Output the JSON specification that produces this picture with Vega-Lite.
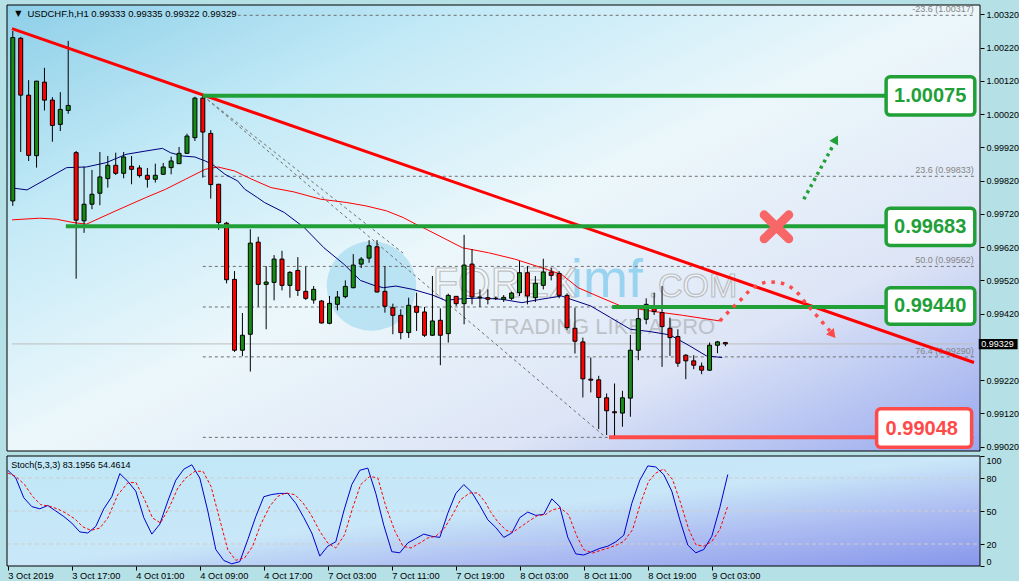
{
"$schema":"https://vega.github.io/schema/vega-lite/v6.json",
"background":"#b4e0e6",
"padding":{"left":5,"top":4,"right":0,"bottom":0},
"config":{"font":"Liberation Sans","view":{"stroke":null}},
"datasets":{
"candles":[
{"x":0,"o":0.99759,"h":1.00270,"l":0.99744,"c":1.00250},
{"x":1,"o":1.00248,"h":1.00252,"l":0.99906,"c":1.00077},
{"x":2,"o":1.00077,"h":1.00122,"l":0.99879,"c":0.99896},
{"x":3,"o":0.99895,"h":1.00120,"l":0.99859,"c":1.00119},
{"x":4,"o":1.00116,"h":1.00159,"l":1.00031,"c":1.00062},
{"x":5,"o":1.00062,"h":1.00071,"l":0.99937,"c":0.99986},
{"x":6,"o":0.99989,"h":1.00086,"l":0.99969,"c":1.00034},
{"x":7,"o":1.00031,"h":1.00240,"l":1.00021,"c":1.00046},
{"x":8,"o":0.99904,"h":0.99909,"l":0.99525,"c":0.99701},
{"x":9,"o":0.99699,"h":0.99862,"l":0.99663,"c":0.99749},
{"x":10,"o":0.99749,"h":0.99852,"l":0.99734,"c":0.99779},
{"x":11,"o":0.99782,"h":0.99906,"l":0.99746,"c":0.99831},
{"x":12,"o":0.99826,"h":0.99894,"l":0.99799,"c":0.99866},
{"x":13,"o":0.99866,"h":0.99904,"l":0.99837,"c":0.99842},
{"x":14,"o":0.99842,"h":0.99906,"l":0.99827,"c":0.99891},
{"x":15,"o":0.99863,"h":0.99894,"l":0.99809,"c":0.99854},
{"x":16,"o":0.99858,"h":0.99866,"l":0.99829,"c":0.99835},
{"x":17,"o":0.99836,"h":0.99858,"l":0.99799,"c":0.99824},
{"x":18,"o":0.99824,"h":0.99871,"l":0.99814,"c":0.99836},
{"x":19,"o":0.99839,"h":0.99873,"l":0.99837,"c":0.99861},
{"x":20,"o":0.99859,"h":0.99892,"l":0.99839,"c":0.99879},
{"x":21,"o":0.99871,"h":0.99921,"l":0.99870,"c":0.99902},
{"x":22,"o":0.99902,"h":0.99961,"l":0.99900,"c":0.99954},
{"x":23,"o":0.99949,"h":1.00072,"l":0.99939,"c":1.00068},
{"x":24,"o":1.00068,"h":1.00075,"l":0.99829,"c":0.99966},
{"x":25,"o":0.99962,"h":0.99972,"l":0.99766,"c":0.99808},
{"x":26,"o":0.99809,"h":0.99810,"l":0.99672,"c":0.99694},
{"x":27,"o":0.99692,"h":0.99696,"l":0.99511,"c":0.99522},
{"x":28,"o":0.99523,"h":0.99548,"l":0.99305,"c":0.99310},
{"x":29,"o":0.99310,"h":0.99422,"l":0.99292,"c":0.99355},
{"x":30,"o":0.99358,"h":0.99674,"l":0.99246,"c":0.99632},
{"x":31,"o":0.99635,"h":0.99651,"l":0.99441,"c":0.99508},
{"x":32,"o":0.99508,"h":0.99563,"l":0.99373,"c":0.99515},
{"x":33,"o":0.99514,"h":0.99596,"l":0.99460,"c":0.99584},
{"x":34,"o":0.99584,"h":0.99609,"l":0.99490,"c":0.99505},
{"x":35,"o":0.99505,"h":0.99548,"l":0.99468,"c":0.99544},
{"x":36,"o":0.99550,"h":0.99590,"l":0.99473,"c":0.99490},
{"x":37,"o":0.99487,"h":0.99561,"l":0.99461,"c":0.99466},
{"x":38,"o":0.99461,"h":0.99503,"l":0.99450,"c":0.99493},
{"x":39,"o":0.99458,"h":0.99461,"l":0.99390,"c":0.99392},
{"x":40,"o":0.99391,"h":0.99473,"l":0.99388,"c":0.99451},
{"x":41,"o":0.99448,"h":0.99488,"l":0.99430,"c":0.99470},
{"x":42,"o":0.99471,"h":0.99520,"l":0.99466,"c":0.99502},
{"x":43,"o":0.99498,"h":0.99599,"l":0.99496,"c":0.99566},
{"x":44,"o":0.99569,"h":0.99590,"l":0.99557,"c":0.99584},
{"x":45,"o":0.99587,"h":0.99641,"l":0.99573,"c":0.99624},
{"x":46,"o":0.99621,"h":0.99641,"l":0.99484,"c":0.99485},
{"x":47,"o":0.99487,"h":0.99563,"l":0.99423,"c":0.99442},
{"x":48,"o":0.99438,"h":0.99450,"l":0.99358,"c":0.99415},
{"x":49,"o":0.99415,"h":0.99433,"l":0.99343,"c":0.99363},
{"x":50,"o":0.99363,"h":0.99468,"l":0.99347,"c":0.99445},
{"x":51,"o":0.99442,"h":0.99483,"l":0.99368,"c":0.99424},
{"x":52,"o":0.99425,"h":0.99440,"l":0.99350,"c":0.99355},
{"x":53,"o":0.99355,"h":0.99533,"l":0.99353,"c":0.99398},
{"x":54,"o":0.99400,"h":0.99436,"l":0.99265,"c":0.99355},
{"x":55,"o":0.99360,"h":0.99480,"l":0.99333,"c":0.99475},
{"x":56,"o":0.99472,"h":0.99473,"l":0.99443,"c":0.99450},
{"x":57,"o":0.99450,"h":0.99657,"l":0.99388,"c":0.99566},
{"x":58,"o":0.99569,"h":0.99614,"l":0.99448,"c":0.99470},
{"x":59,"o":0.99468,"h":0.99493,"l":0.99440,"c":0.99470},
{"x":60,"o":0.99468,"h":0.99493,"l":0.99448,"c":0.99463},
{"x":61,"o":0.99466,"h":0.99471,"l":0.99461,"c":0.99466},
{"x":62,"o":0.99463,"h":0.99476,"l":0.99455,"c":0.99469},
{"x":63,"o":0.99466,"h":0.99486,"l":0.99461,"c":0.99482},
{"x":64,"o":0.99483,"h":0.99578,"l":0.99473,"c":0.99543},
{"x":65,"o":0.99543,"h":0.99563,"l":0.99448,"c":0.99473},
{"x":66,"o":0.99468,"h":0.99533,"l":0.99455,"c":0.99511},
{"x":67,"o":0.99505,"h":0.99585,"l":0.99493,"c":0.99545},
{"x":68,"o":0.99545,"h":0.99558,"l":0.99520,"c":0.99535},
{"x":69,"o":0.99541,"h":0.99548,"l":0.99466,"c":0.99475},
{"x":70,"o":0.99475,"h":0.99481,"l":0.99371,"c":0.99378},
{"x":71,"o":0.99376,"h":0.99438,"l":0.99300,"c":0.99337},
{"x":72,"o":0.99335,"h":0.99348,"l":0.99168,"c":0.99224},
{"x":73,"o":0.99223,"h":0.99288,"l":0.99183,"c":0.99220},
{"x":74,"o":0.99221,"h":0.99233,"l":0.99073,"c":0.99168},
{"x":75,"o":0.99167,"h":0.99180,"l":0.99055,"c":0.99128},
{"x":76,"o":0.99125,"h":0.99210,"l":0.99048,"c":0.99122},
{"x":77,"o":0.99121,"h":0.99188,"l":0.99080,"c":0.99167},
{"x":78,"o":0.99166,"h":0.99356,"l":0.99110,"c":0.99310},
{"x":79,"o":0.99310,"h":0.99433,"l":0.99280,"c":0.99405},
{"x":80,"o":0.99403,"h":0.99466,"l":0.99388,"c":0.99448},
{"x":81,"o":0.99441,"h":0.99483,"l":0.99416,"c":0.99426},
{"x":82,"o":0.99423,"h":0.99503,"l":0.99260,"c":0.99381},
{"x":83,"o":0.99376,"h":0.99408,"l":0.99293,"c":0.99348},
{"x":84,"o":0.99351,"h":0.99373,"l":0.99260,"c":0.99271},
{"x":85,"o":0.99295,"h":0.99298,"l":0.99223,"c":0.99278},
{"x":86,"o":0.99278,"h":0.99295,"l":0.99253,"c":0.99265},
{"x":87,"o":0.99262,"h":0.99273,"l":0.99238,"c":0.99250},
{"x":88,"o":0.99250,"h":0.99333,"l":0.99248,"c":0.99325},
{"x":89,"o":0.99325,"h":0.99338,"l":0.99301,"c":0.99335},
{"x":90,"o":0.99333,"h":0.99335,"l":0.99322,"c":0.99329}
],
"maBlue":[
{"x":-0.1,"y":0.99798},{"x":1.8,"y":0.99792},{"x":6.8,"y":0.99859},{"x":9.3,"y":0.99861},{"x":11.8,"y":0.99874},{"x":14.3,"y":0.99899},{"x":16.8,"y":0.99909},{"x":18.9,"y":0.99917},{"x":19.9,"y":0.99904},{"x":21.4,"y":0.99894},{"x":23.0,"y":0.99891},{"x":24.3,"y":0.99879},{"x":25.2,"y":0.99869},{"x":26.8,"y":0.99839},{"x":28.4,"y":0.99819},{"x":29.3,"y":0.99794},{"x":30.9,"y":0.99769},{"x":31.8,"y":0.99754},{"x":34.3,"y":0.99724},{"x":36.8,"y":0.99679},{"x":39.3,"y":0.99618},{"x":41.8,"y":0.99569},{"x":43.9,"y":0.99520},{"x":45.5,"y":0.99506},{"x":46.8,"y":0.99498},{"x":48.4,"y":0.99503},{"x":50.5,"y":0.99493},{"x":53.0,"y":0.99476},{"x":54.6,"y":0.99460},{"x":56.8,"y":0.99465},{"x":59.3,"y":0.99467},{"x":61.8,"y":0.99463},{"x":64.3,"y":0.99453},{"x":66.4,"y":0.99462},{"x":69.3,"y":0.99473},{"x":70.5,"y":0.99463},{"x":73.0,"y":0.99443},{"x":75.5,"y":0.99408},{"x":78.0,"y":0.99373},{"x":80.5,"y":0.99366},{"x":83.0,"y":0.99356},{"x":85.5,"y":0.99323},{"x":87.6,"y":0.99293},{"x":89.6,"y":0.99288}
],
"maRed":[
{"x":-0.1,"y":0.99702},{"x":3.4,"y":0.99707},{"x":5.5,"y":0.99704},{"x":7.6,"y":0.99694},{"x":9.3,"y":0.99689},{"x":10.5,"y":0.99702},{"x":13.0,"y":0.99729},{"x":16.8,"y":0.99769},{"x":19.3,"y":0.99794},{"x":21.8,"y":0.99824},{"x":24.3,"y":0.99854},{"x":25.9,"y":0.99861},{"x":28.0,"y":0.99849},{"x":30.2,"y":0.99824},{"x":32.6,"y":0.99799},{"x":35.5,"y":0.99786},{"x":38.9,"y":0.99764},{"x":42.2,"y":0.99754},{"x":44.6,"y":0.99744},{"x":47.2,"y":0.99729},{"x":49.3,"y":0.99709},{"x":50.9,"y":0.99689},{"x":52.2,"y":0.99674},{"x":56.8,"y":0.99618},{"x":60.1,"y":0.99603},{"x":63.4,"y":0.99584},{"x":66.8,"y":0.99558},{"x":69.3,"y":0.99538},{"x":71.4,"y":0.99498},{"x":74.3,"y":0.99468},{"x":76.8,"y":0.99443},{"x":80.5,"y":0.99428},{"x":84.6,"y":0.99415},{"x":89.3,"y":0.99398}
],
"stochK":[
{"x":0,"y":87},{"x":1,"y":80},{"x":2,"y":62},{"x":3,"y":54},{"x":4,"y":52},{"x":5,"y":55},{"x":6,"y":50},{"x":7,"y":45},{"x":8,"y":39},{"x":9,"y":31},{"x":10,"y":30},{"x":11,"y":36},{"x":12,"y":52},{"x":13,"y":63},{"x":14,"y":84},{"x":15,"y":77},{"x":16,"y":68},{"x":17,"y":44},{"x":18,"y":29},{"x":19,"y":38},{"x":20,"y":59},{"x":21,"y":78},{"x":22,"y":88},{"x":23,"y":92},{"x":24,"y":80},{"x":25,"y":50},{"x":26,"y":15},{"x":27,"y":5},{"x":28,"y":2},{"x":29,"y":4},{"x":30,"y":24},{"x":31,"y":45},{"x":32,"y":63},{"x":33,"y":65},{"x":34,"y":66},{"x":35,"y":66},{"x":36,"y":57},{"x":37,"y":44},{"x":38,"y":30},{"x":39,"y":9},{"x":40,"y":18},{"x":41,"y":22},{"x":42,"y":50},{"x":43,"y":74},{"x":44,"y":87},{"x":45,"y":89},{"x":46,"y":66},{"x":47,"y":37},{"x":48,"y":13},{"x":49,"y":12},{"x":50,"y":21},{"x":51,"y":25},{"x":52,"y":29},{"x":53,"y":27},{"x":54,"y":26},{"x":55,"y":48},{"x":56,"y":66},{"x":57,"y":74},{"x":58,"y":67},{"x":59,"y":55},{"x":60,"y":42},{"x":61,"y":35},{"x":62,"y":26},{"x":63,"y":30},{"x":64,"y":44},{"x":65,"y":49},{"x":66,"y":46},{"x":67,"y":47},{"x":68,"y":61},{"x":69,"y":54},{"x":70,"y":26},{"x":71,"y":11},{"x":72,"y":10},{"x":73,"y":13},{"x":74,"y":16},{"x":75,"y":18},{"x":76,"y":22},{"x":77,"y":28},{"x":78,"y":57},{"x":79,"y":78},{"x":80,"y":91},{"x":81,"y":90},{"x":82,"y":83},{"x":83,"y":68},{"x":84,"y":42},{"x":85,"y":19},{"x":86,"y":12},{"x":87,"y":15},{"x":88,"y":27},{"x":89,"y":53},{"x":90,"y":83.2}
],
"stochD":[
{"x":0,"y":84.5},{"x":1,"y":81.5},{"x":2.1,"y":73.9},{"x":3.1,"y":63.3},{"x":4.1,"y":55.8},{"x":5.25,"y":54.3},{"x":6.25,"y":51.8},{"x":7.25,"y":48.2},{"x":8.4,"y":42.7},{"x":9.4,"y":35.5},{"x":10.4,"y":32.4},{"x":11.5,"y":34.5},{"x":12.5,"y":43.6},{"x":13.75,"y":64.8},{"x":15,"y":75.5},{"x":16,"y":76.1},{"x":17.1,"y":60.3},{"x":18.1,"y":43.6},{"x":19.1,"y":39.1},{"x":20.25,"y":54.3},{"x":21.25,"y":70.9},{"x":22.25,"y":80},{"x":23.4,"y":86.1},{"x":24.4,"y":86.1},{"x":25.4,"y":72.4},{"x":26.5,"y":42.1},{"x":27.5,"y":14.8},{"x":28.5,"y":5.2},{"x":29.6,"y":7.3},{"x":30.6,"y":17.9},{"x":31.6,"y":37.6},{"x":32.75,"y":54.3},{"x":33.75,"y":63.3},{"x":34.75,"y":66.4},{"x":35.9,"y":64.8},{"x":36.9,"y":57.3},{"x":37.9,"y":46.7},{"x":39,"y":31.5},{"x":40,"y":20.9},{"x":41,"y":16.4},{"x":42.1,"y":28.5},{"x":43.1,"y":52.7},{"x":44.1,"y":73.9},{"x":45.25,"y":81.5},{"x":46.25,"y":80},{"x":47.25,"y":54.3},{"x":48.4,"y":31.5},{"x":49.4,"y":17.9},{"x":50.4,"y":16.4},{"x":51.5,"y":20.9},{"x":52.5,"y":25.5},{"x":53.5,"y":27},{"x":54.6,"y":34.5},{"x":55.6,"y":46.7},{"x":56.6,"y":60.3},{"x":57.75,"y":66.4},{"x":58.75,"y":66.4},{"x":59.75,"y":57.3},{"x":60.3,"y":49.7},{"x":61.2,"y":40.6},{"x":62.3,"y":32.4},{"x":63.1,"y":30.6},{"x":64.1,"y":35.5},{"x":65.1,"y":40.6},{"x":66.2,"y":45.8},{"x":67.2,"y":46.7},{"x":68.1,"y":51.2},{"x":69.1,"y":52.7},{"x":70.1,"y":46.7},{"x":71.1,"y":27.6},{"x":72,"y":14.8},{"x":73.1,"y":11.8},{"x":74.1,"y":14.2},{"x":75.1,"y":16.4},{"x":76.2,"y":19.4},{"x":77,"y":22.4},{"x":78.1,"y":33},{"x":79.1,"y":57.3},{"x":80.1,"y":77},{"x":81,"y":84.5},{"x":82,"y":88.2},{"x":83.1,"y":78.5},{"x":84.1,"y":57.3},{"x":85.1,"y":33.6},{"x":86,"y":19.4},{"x":87,"y":17.9},{"x":88,"y":22.4},{"x":89,"y":33},{"x":90,"y":54.46}
],
"fib":[
{"x":28.4,"x2":121.525,"y":1.00317,"label":"-23.6 (1.00317)"},
{"x":24,"x2":121.525,"y":1.00075,"label":""},
{"x":24,"x2":121.525,"y":0.99833,"label":"23.6 (0.99833)"},
{"x":24,"x2":121.525,"y":0.99683,"label":""},
{"x":24,"x2":121.525,"y":0.99562,"label":"50.0 (0.99562)"},
{"x":24,"x2":121.525,"y":0.99440,"label":""},
{"x":24,"x2":121.525,"y":0.99290,"label":"76.4 (0.99290)"},
{"x":24,"x2":121.525,"y":0.99048,"label":""}
],
"redCurve":[
{"k":0,"x":89.3,"y":0.99398},{"k":1,"x":90.7,"y":0.99433},{"k":2,"x":92.0,"y":0.99463},{"k":3,"x":93.0,"y":0.99488},{"k":4,"x":94.3,"y":0.99508},{"k":5,"x":95.5,"y":0.99515},{"k":6,"x":96.8,"y":0.99513},{"k":7,"x":98.0,"y":0.99503},{"k":8,"x":99.1,"y":0.99483},{"k":9,"x":100.1,"y":0.99453},{"k":10,"x":101.2,"y":0.99423},{"k":11,"x":102.4,"y":0.99390},{"k":12,"x":103.2,"y":0.99368}
]
},
"vconcat":[
{
"width":973,"height":446,
"layer":[
{"data":{"values":[{}]},"mark":{"type":"rect","fill":{"gradient":"linear","x1":0,"y1":0,"x2":1,"y2":1,"stops":[{"offset":0,"color":"#8dcfe8"},{"offset":0.25,"color":"#c4eaf7"},{"offset":0.5,"color":"#ecf7fb"},{"offset":0.75,"color":"#dde5f6"},{"offset":1,"color":"#97a8ee"}]}},"encoding":{}},
{
"encoding":{
 "x":{"field":"x","type":"quantitative","scale":{"domain":[-0.1,121.525],"nice":false,"zero":false},"axis":null},
 "y":{"field":"y","type":"quantitative","scale":{"domain":[0.99007,1.00348],"nice":false,"zero":false},"axis":{"orient":"right","values":[1.0032,1.0022,1.0012,1.0002,0.9992,0.9982,0.9972,0.9962,0.9952,0.9942,0.9922,0.9912,0.9902],"format":".5f","labelFontSize":9,"labelColor":"#000000","tickColor":"#000000","tickSize":4,"labelPadding":2,"domain":false,"grid":false,"title":null,"zindex":1}}
},
"layer":[
{"data":{"values":[{"x":45.3,"y":0.99503}]},"mark":{"type":"point","filled":true,"size":8000,"color":"#a9dcf0","opacity":0.75}},
{"data":{"values":[{"x":53.0,"y":0.99470,"t":"FOREX"},{"x":80.3,"y":0.99470,"t":".COM"}]},"mark":{"type":"text","align":"left","baseline":"alphabetic","fill":"#ffffff","fillOpacity":0.4,"stroke":"#a8a8a8","strokeWidth":1.2,"strokeOpacity":0.7},
 "encoding":{"text":{"field":"t"},"size":{"condition":{"test":"datum.t == '.COM'","value":34},"value":42}}},
{"data":{"values":[{"x":70.5,"y":0.99470,"t":"imf"}]},"mark":{"type":"text","align":"left","baseline":"alphabetic","fontSize":54,"color":"#86cdee","opacity":0.8},
 "encoding":{"text":{"field":"t"}}},
{"data":{"values":[{"x":60.3,"y":0.99359,"t":"TRADING LIKE A PRO"}]},"mark":{"type":"text","align":"left","baseline":"alphabetic","fontSize":22,"color":"#9a9a9a","opacity":0.5},
 "encoding":{"text":{"field":"t"}}},
{"data":{"values":[{"x":-0.1,"x2":121.525,"y":0.99329}]},"mark":{"type":"rule","color":"#bdbdbd","strokeWidth":1},
 "encoding":{"x2":{"field":"x2"}}},
{"data":{"name":"fib"},"mark":{"type":"rule","color":"#6e6e6e","strokeWidth":1,"strokeDash":[3,3]},
 "encoding":{"x2":{"field":"x2"}}},
{"data":{"name":"fib"},"mark":{"type":"text","align":"right","baseline":"bottom","dy":-1,"fontSize":9,"color":"#858585"},
 "encoding":{"x":{"datum":121.36,"type":"quantitative","scale":{"domain":[-0.1,121.525],"nice":false,"zero":false},"axis":null},"text":{"field":"label"}}},
{"data":{"values":[{"x":24,"y":1.00075,"x2":74.9,"y2":0.99048},{"x":24,"y":1.00075,"x2":49.3,"y2":0.99602}]},"mark":{"type":"rule","color":"#6e6e6e","strokeWidth":1,"strokeDash":[3,3]},
 "encoding":{"x2":{"field":"x2"},"y2":{"field":"y2"}}},
{"data":{"name":"maRed"},"mark":{"type":"line","color":"#ff0000","strokeWidth":1}},
{"data":{"name":"maBlue"},"mark":{"type":"line","color":"#00007f","strokeWidth":1}},
{"data":{"name":"candles"},"mark":{"type":"rule","color":"#000000","strokeWidth":1,"clip":true},
 "encoding":{"y":{"field":"l","type":"quantitative","scale":{"domain":[0.99007,1.00348],"nice":false,"zero":false},"axis":{"orient":"right","values":[1.0032,1.0022,1.0012,1.0002,0.9992,0.9982,0.9972,0.9962,0.9952,0.9942,0.9922,0.9912,0.9902],"format":".5f","labelFontSize":9,"labelColor":"#000000","tickColor":"#000000","tickSize":4,"labelPadding":2,"domain":false,"grid":false,"title":null,"zindex":1}},"y2":{"field":"h"}}},
{"data":{"name":"candles"},"mark":{"type":"bar","size":4,"stroke":"#000000","strokeWidth":1,"clip":true},
 "encoding":{"y":{"field":"o","type":"quantitative","scale":{"domain":[0.99007,1.00348],"nice":false,"zero":false},"axis":{"orient":"right","values":[1.0032,1.0022,1.0012,1.0002,0.9992,0.9982,0.9972,0.9962,0.9952,0.9942,0.9922,0.9912,0.9902],"format":".5f","labelFontSize":9,"labelColor":"#000000","tickColor":"#000000","tickSize":4,"labelPadding":2,"domain":false,"grid":false,"title":null,"zindex":1}},"y2":{"field":"c"},"fill":{"condition":{"test":"datum.c >= datum.o","value":"#168c16"},"value":"#ff0000"}}},
{"data":{"values":[{"x":-0.1,"y":1.00277,"x2":121.4,"y2":0.99273}]},"mark":{"type":"rule","color":"#ff0000","strokeWidth":3},
 "encoding":{"x2":{"field":"x2"},"y2":{"field":"y2"}}},
{"data":{"values":[{"x":24,"x2":110.3,"y":1.00075},{"x":6.7,"x2":110.3,"y":0.99683},{"x":75.7,"x2":110.3,"y":0.99440}]},"mark":{"type":"rule","color":"#21a038","strokeWidth":4},
 "encoding":{"x2":{"field":"x2"}}},
{"data":{"values":[{"x":75.3,"x2":109.1,"y":0.99048}]},"mark":{"type":"rule","color":"#ff4a4a","strokeWidth":4},
 "encoding":{"x2":{"field":"x2"}}},
{"data":{"values":[{"x":110.3,"x2":121.5,"y":1.00132,"y2":1.00017},{"x":110.3,"x2":121.5,"y":0.99737,"y2":0.99625},{"x":110.3,"x2":121.5,"y":0.99498,"y2":0.99388}]},"mark":{"type":"rect","fill":"#ffffff","stroke":"#21a038","strokeWidth":3.5,"cornerRadius":4},
 "encoding":{"x2":{"field":"x2"},"y2":{"field":"y2"}}},
{"data":{"values":[{"x":109.1,"x2":121.1,"y":0.99134,"y2":0.99018}]},"mark":{"type":"rect","fill":"#ffffff","stroke":"#ff4a4a","strokeWidth":3.5,"cornerRadius":4},
 "encoding":{"x2":{"field":"x2"},"y2":{"field":"y2"}}},
{"data":{"values":[{"x":115.86,"y":1.00076,"t":"1.00075"},{"x":115.86,"y":0.99684,"t":"0.99683"},{"x":115.86,"y":0.99446,"t":"0.99440"}]},"mark":{"type":"text","align":"center","baseline":"middle","dy":1,"fontSize":20,"fontWeight":"bold","color":"#21a038"},
 "encoding":{"text":{"field":"t"}}},
{"data":{"values":[{"x":114.8,"y":0.99076,"t":"0.99048"}]},"mark":{"type":"text","align":"center","baseline":"middle","dy":1,"fontSize":20,"fontWeight":"bold","color":"#ff4a4a"},
 "encoding":{"text":{"field":"t"}}},
{"data":{"values":[{"x":99.9,"y":0.99764,"x2":103.7,"y2":0.99930}]},"mark":{"type":"rule","color":"#21a038","strokeWidth":3.5,"strokeDash":[3,4]},
 "encoding":{"x2":{"field":"x2"},"y2":{"field":"y2"}}},
{"data":{"values":[{"x":103.95,"y":0.99944}]},"mark":{"type":"point","shape":"triangle-up","filled":true,"size":100,"angle":29,"color":"#21a038","opacity":1}},
{"data":{"name":"redCurve"},"mark":{"type":"line","color":"#ff4a4a","strokeWidth":3.5,"strokeDash":[3.5,6],"interpolate":"monotone"},
 "encoding":{"order":{"field":"k"}}},
{"data":{"values":[{"x":103.55,"y":0.99357}]},"mark":{"type":"point","shape":"triangle-up","filled":true,"size":100,"angle":140,"color":"#ff4a4a","opacity":1}},
{"data":{"values":[{"x":94.9,"y":0.99717,"x2":98.0,"y2":0.99645},{"x":94.9,"y":0.99645,"x2":98.0,"y2":0.99717}]},"mark":{"type":"rule","color":"#f76767","strokeWidth":9,"strokeCap":"round"},
 "encoding":{"x2":{"field":"x2"},"y2":{"field":"y2"}}},
{"data":{"values":[{"x":0.3,"y":1.00322,"t":"▼"}]},"mark":{"type":"text","align":"left","baseline":"middle","fontSize":8,"color":"#000000","font":"DejaVu Sans"},
 "encoding":{"text":{"field":"t"}}},
{"data":{"values":[{"x":1.85,"y":1.00322,"t":"USDCHF.h,H1 0.99333 0.99335 0.99322 0.99329"}]},"mark":{"type":"text","align":"left","baseline":"middle","fontSize":9.5,"color":"#000000"},
 "encoding":{"text":{"field":"t"}}},
{"data":{"values":[{"x":122.0,"x2":126.9,"y":0.99344,"y2":0.99313}]},"mark":{"type":"rect","fill":"#000000"},
 "encoding":{"x2":{"field":"x2"},"y2":{"field":"y2"}}},
{"data":{"values":[{"x":122.3,"y":0.99329,"t":"0.99329"}]},"mark":{"type":"text","align":"left","baseline":"middle","fontSize":9,"color":"#ffffff"},
 "encoding":{"text":{"field":"t"}}}
]
},
{"data":{"values":[{}]},"mark":{"type":"rect","filled":false,"color":"#000000","strokeWidth":1},"encoding":{}}
]
},
{
"width":973,"height":110,
"layer":[
{"data":{"values":[{}]},"mark":{"type":"rect","fill":{"gradient":"linear","x1":0,"y1":0,"x2":1,"y2":1,"stops":[{"offset":0,"color":"#bfe8f7"},{"offset":0.5,"color":"#c9e7f8"},{"offset":0.72,"color":"#aebef2"},{"offset":1,"color":"#8796ea"}]}},"encoding":{}},
{
"encoding":{
 "x":{"field":"x","type":"quantitative","scale":{"domain":[-0.1,121.525],"nice":false,"zero":false},"axis":{"orient":"bottom","values":[0,8,16,24,32,40,48,56,64,72,80,88],"labelExpr":"['3 Oct 2019','3 Oct 17:00','4 Oct 01:00','4 Oct 09:00','4 Oct 17:00','7 Oct 03:00','7 Oct 11:00','7 Oct 19:00','8 Oct 03:00','8 Oct 11:00','8 Oct 19:00','9 Oct 03:00'][round(datum.value/8)]","labelAlign":"left","labelFontSize":9.3,"labelColor":"#000000","tickColor":"#000000","tickSize":4,"labelPadding":1,"domain":false,"grid":false,"title":null,"labelOverlap":false,"labelFlush":false,"zindex":1}},
 "y":{"field":"y","type":"quantitative","scale":{"domain":[0,100],"nice":false,"zero":false},"axis":{"orient":"right","values":[0,20,50,80,100],"labelFlush":true,"labelFontSize":9,"labelColor":"#000000","tickColor":"#000000","tickSize":4,"labelPadding":2,"domain":false,"grid":false,"title":null,"zindex":1}}
},
"layer":[
{"data":{"values":[{"x":-0.1,"x2":121.525,"y":20},{"x":-0.1,"x2":121.525,"y":50},{"x":-0.1,"x2":121.525,"y":80}]},"mark":{"type":"rule","color":"#cdcdcd","strokeWidth":1,"strokeDash":[4,3]},
 "encoding":{"x2":{"field":"x2"}}},
{"data":{"name":"stochK"},"mark":{"type":"line","color":"#0000cc","strokeWidth":1}},
{"data":{"name":"stochD"},"mark":{"type":"line","color":"#ff0000","strokeWidth":1,"strokeDash":[3,2]}},
{"data":{"values":[{"x":0.44,"y":92.1,"t":"Stoch(5,3,3) 83.1956 54.4614"}]},"mark":{"type":"text","align":"left","baseline":"middle","fontSize":9,"color":"#000000"},
 "encoding":{"text":{"field":"t"}}}
]
},
{"data":{"values":[{}]},"mark":{"type":"rect","filled":false,"color":"#000000","strokeWidth":1},"encoding":{}}
]
}
],
"spacing":3
}
